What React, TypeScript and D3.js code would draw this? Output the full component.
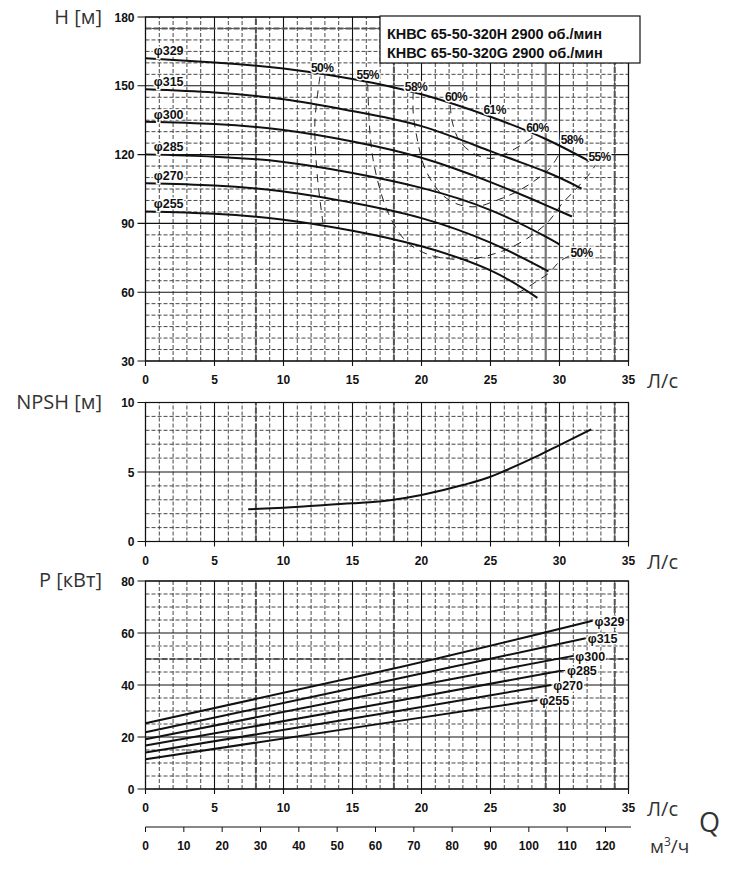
import * as d3 from "d3";

// Q axis ticks
const flowTicks = [0, 5, 10, 15, 20, 25, 30, 35];
const cubicTicks = [0, 10, 20, 30, 40, 50, 60, 70, 80, 90, 100, 110, 120];
const headTicks = [30, 60, 90, 120, 150, 180];
const npshTicks = [0, 5, 10];
const powerTicks = [0, 20, 40, 60, 80];

const diameters = ["φ329", "φ315", "φ300", "φ285", "φ270", "φ255"];

// H(Q) curves, [Q л/с, H м]
const head329 = [[0, 162], [5, 160.2], [10, 157.5], [15, 153], [20, 146.3], [25, 136.5], [29, 126.8], [32.2, 117]];
const head315 = [[0, 148.5], [5, 147.1], [10, 144.1], [15, 139], [20, 132.4], [25, 121.5], [29, 112.5], [31.6, 105.2]];
const head300 = [[0, 134.3], [5, 133.3], [10, 130.7], [15, 125.7], [20, 118.6], [25, 108], [29, 98], [30.9, 93]];
const head285 = [[0, 120.1], [5, 119.1], [10, 116.8], [15, 112], [20, 105.5], [25, 95.8], [29, 84.2], [30, 80.7]];
const head270 = [[0, 107.5], [5, 106.5], [10, 103.9], [15, 99], [20, 92.3], [25, 81.6], [29.2, 69.1]];
const head255 = [[0, 95.2], [5, 94.2], [10, 91.6], [15, 86.8], [20, 80], [25, 69.5], [28.4, 57.5]];
const headCurves = [head329, head315, head300, head285, head270, head255];

// efficiency contours
const eff50left = [[12.64, 154], [12.28, 135.1], [12.32, 122], [12.5, 107.5], [12.88, 89.3]];
const eff55 = [[16.1, 151], [16.25, 130.7], [16.5, 117.6], [17, 104.6], [17.6, 94.4], [18.4, 85.7], [19.2, 80.6], [20.6, 76.2], [22.5, 74.3], [24, 74.8], [25.4, 77], [26.6, 79.8], [28.2, 85.7], [29.3, 91.5], [30.1, 98], [31, 103.8], [32.2, 111.8], [32.6, 115.5]];
const eff58 = [[19.4, 147.5], [19.4, 138], [19.75, 125], [20.2, 114.7], [21, 106], [21.8, 101], [22.8, 98], [24, 97.3], [25.2, 99.5], [26.9, 103.8], [28.1, 108.2], [29.3, 114], [30, 120.5]];
const eff60 = [[22.1, 141.5], [22.2, 135], [22.8, 125.6], [24, 119.8], [25.2, 118.4], [26.4, 121.3], [27.6, 125.6], [28.2, 128]];
const eff50right = [[30.7, 75.8], [30, 73.3], [29.2, 68.2], [28.3, 64.6], [27.4, 61], [27, 59.8]];
const effCurves = [eff50left, eff55, eff58, eff60, eff50right];

const effLabels = ["50%", "55%", "58%", "60%", "61%", "60%", "58%", "55%", "50%"];
const effLabelQ = [12.8, 16.1, 19.6, 22.5, 25.3, 28.4, 30.9, 32.9, 31.6];
const effLabelH = [157.8, 154.7, 149.6, 145, 139.4, 131.5, 126.4, 119, 76.9];

// NPSH(Q)
const npsh = [[7.44, 2.32], [10, 2.43], [15, 2.75], [16.25, 2.82], [20, 3.35], [23, 4.06], [25, 4.66], [26, 5.07], [28.3, 6.1], [30, 6.94], [32.3, 8.07]];

// P(Q), kW
const power329 = [[0, 25.3], [18.4, 46.8], [32.4, 64.7]];
const power315 = [[0, 21.8], [18.4, 42.6], [31.9, 58]];
const power300 = [[0, 19.1], [18.4, 38.5], [31, 51.2]];
const power285 = [[0, 16.7], [18.4, 34], [30.4, 45.8]];
const power270 = [[0, 14], [18.4, 30.1], [29.4, 40]];
const power255 = [[0, 11.4], [18.4, 26.2], [28.4, 34.2]];
const powerCurves = [power329, power315, power300, power285, power270, power255];

const markerFlows = [8, 18, 29, 34];

const titleLines = ["КНВС 65-50-320Н 2900 об./мин", "КНВС 65-50-320G 2900 об./мин"];

const W = 749;
const H = 883;
const numFont = "'Liberation Sans', Arial, sans-serif";
const titleFont = "'Open Sans', 'Noto Sans', sans-serif";

const x = d3.scaleLinear().domain([0, 35]).range([145.5, 628.5]);
const yH = d3.scaleLinear().domain([30, 180]).range([361, 17]);
const yN = d3.scaleLinear().domain([0, 10]).range([541.5, 402.5]);
const yP = d3.scaleLinear().domain([0, 80]).range([789, 581]);

type Scale = d3.ScaleLinear<number, number>;

function Panel({ y, step, ticks, thickY, solid29 }: { y: Scale; step: number; ticks: number[]; thickY?: number; solid29?: boolean }) {
    const [lo, hi] = y.domain();
    const minorX = d3.range(1, 35).filter(v => v % 5 !== 0);
    const minorY = d3.range(lo + step, hi, step).filter(v => !ticks.includes(v));
    const x0 = x(0), x1 = x(35), y0 = y(lo), y1 = y(hi);
    return (
        <g>
            {minorX.map(v => (
                <line key={"vx" + v} x1={x(v)} x2={x(v)} y1={y0} y2={y1} stroke="#333" strokeWidth={0.9} strokeDasharray="4,2" />
            ))}
            {minorY.map(v => (
                <line key={"hy" + v} x1={x0} x2={x1} y1={y(v)} y2={y(v)} stroke="#333" strokeWidth={0.9} strokeDasharray="4,2" />
            ))}
            {flowTicks.map(v => (
                <line key={"mx" + v} x1={x(v)} x2={x(v)} y1={y0 + 5} y2={y1} stroke="#111" strokeWidth={1.1} />
            ))}
            {ticks.map(v => (
                <line key={"my" + v} x1={x0 - 8} x2={x1} y1={y(v)} y2={y(v)} stroke="#111" strokeWidth={1.1} />
            ))}
            {markerFlows.map(v => (
                solid29 && v === 29
                    ? <line key={"t" + v} x1={x(v)} x2={x(v)} y1={y0} y2={y1} stroke="#777" strokeWidth={2.2} />
                    : <line key={"t" + v} x1={x(v)} x2={x(v)} y1={y0} y2={y1} stroke="#555" strokeWidth={2} strokeDasharray="6,2" />
            ))}
            {thickY !== undefined && (
                <line x1={x0} x2={x1} y1={y(thickY)} y2={y(thickY)} stroke="#555" strokeWidth={2} strokeDasharray="6,2" />
            )}
            <rect x={x0} y={y1} width={x1 - x0} height={y0 - y1} fill="none" stroke="#111" strokeWidth={1.2} />
            {ticks.map(v => (
                <text key={"ly" + v} x={x0 - 11} y={y(v) + 4.5} textAnchor="end" fontFamily={numFont} fontWeight="bold" fontSize={12} fill="#111">{v}</text>
            ))}
            {flowTicks.map(v => (
                <text key={"lx" + v} x={x(v)} y={y0 + 23} textAnchor="middle" fontFamily={numFont} fontWeight="bold" fontSize={12} fill="#111">{v}</text>
            ))}
            <text x={647} y={y0 + 27} fontFamily={titleFont} fontSize={20} fill="#333">Л/с</text>
        </g>
    );
}

export default function App() {
    const curve = d3.line<number[]>().x(d => x(d[0])).y(d => yH(d[1])).curve(d3.curveNatural);
    const effLine = d3.line<number[]>().x(d => x(d[0])).y(d => yH(d[1])).curve(d3.curveCatmullRom.alpha(0.5));
    const npshLine = d3.line<number[]>().x(d => x(d[0])).y(d => yN(d[1])).curve(d3.curveMonotoneX);
    const powerLine = d3.line<number[]>().x(d => x(d[0])).y(d => yP(d[1])).curve(d3.curveNatural);
    const halo = { stroke: "#fff", strokeWidth: 3, paintOrder: "stroke" as const };

    return (
        <svg width={W} height={H} viewBox={`0 0 ${W} ${H}`} style={{ position: "absolute", left: 0, top: 0, background: "#fff" }}>
            {/* head chart */}
            <Panel y={yH} step={5} ticks={headTicks} thickY={175} solid29 />
            <rect x={380} y={16} width={260} height={47} fill="#fff" stroke="#111" strokeWidth={1.2} />
            {titleLines.map((t, i) => (
                <text key={t} x={387} y={38.5 + i * 19.5} fontFamily={numFont} fontWeight="bold" fontSize={14.5} fill="#111">{t}</text>
            ))}
            {effCurves.map((c, i) => (
                <path key={"e" + i} d={effLine(c) ?? ""} fill="none" stroke="#222" strokeWidth={1} strokeDasharray="8,6" />
            ))}
            {headCurves.map((c, i) => (
                <path key={"h" + i} d={curve(c) ?? ""} fill="none" stroke="#111" strokeWidth={2} />
            ))}
            {headCurves.map((c, i) => (
                <text key={"hl" + i} x={x(0.6)} y={yH(c[0][1]) - 3} fontFamily={numFont} fontWeight="bold" fontSize={12.5} fill="#111" {...halo}>{diameters[i]}</text>
            ))}
            {effLabels.map((t, i) => (
                <text key={"el" + i} x={x(effLabelQ[i])} y={yH(effLabelH[i]) + 4} textAnchor="middle" fontFamily={numFont} fontWeight="bold" fontSize={12} letterSpacing={-0.6} fill="#111" {...halo}>{t}</text>
            ))}
            <text x={102} y={24} textAnchor="end" fontFamily={titleFont} fontSize={20} fill="#333">H [м]</text>

            {/* NPSH chart */}
            <Panel y={yN} step={1} ticks={npshTicks} />
            <path d={npshLine(npsh) ?? ""} fill="none" stroke="#111" strokeWidth={2} />
            <text x={102} y={409} textAnchor="end" fontFamily={titleFont} fontSize={20} fill="#333">NPSH [м]</text>

            {/* power chart */}
            <Panel y={yP} step={5} ticks={powerTicks} thickY={50} />
            {powerCurves.map((c, i) => (
                <path key={"p" + i} d={powerLine(c) ?? ""} fill="none" stroke="#111" strokeWidth={2} />
            ))}
            {powerCurves.map((c, i) => {
                const end = c[c.length - 1];
                return (
                    <text key={"pl" + i} x={x(end[0]) + 2} y={yP(end[1]) + 5} fontFamily={numFont} fontWeight="bold" fontSize={12.5} fill="#111" {...halo}>{diameters[i]}</text>
                );
            })}
            <text x={102} y={587} textAnchor="end" fontFamily={titleFont} fontSize={20} fill="#333">P [кВт]</text>

            {/* m3/h axis */}
            <line x1={x(0)} x2={631} y1={827} y2={827} stroke="#111" strokeWidth={1} />
            {cubicTicks.map(v => (
                <g key={"c" + v}>
                    <line x1={x(v / 3.6)} x2={x(v / 3.6)} y1={827} y2={832} stroke="#111" strokeWidth={1} />
                    <text x={x(v / 3.6)} y={850} textAnchor="middle" fontFamily={numFont} fontWeight="bold" fontSize={12} fill="#111">{v}</text>
                </g>
            ))}
            <text x={650} y={853} fontFamily={titleFont} fontSize={19} fill="#333">м<tspan dy={-7} fontSize={12}>3</tspan><tspan dy={7}>/ч</tspan></text>
            <text x={699} y={832} fontFamily={titleFont} fontSize={27} fill="#333">Q</text>
        </svg>
    );
}
